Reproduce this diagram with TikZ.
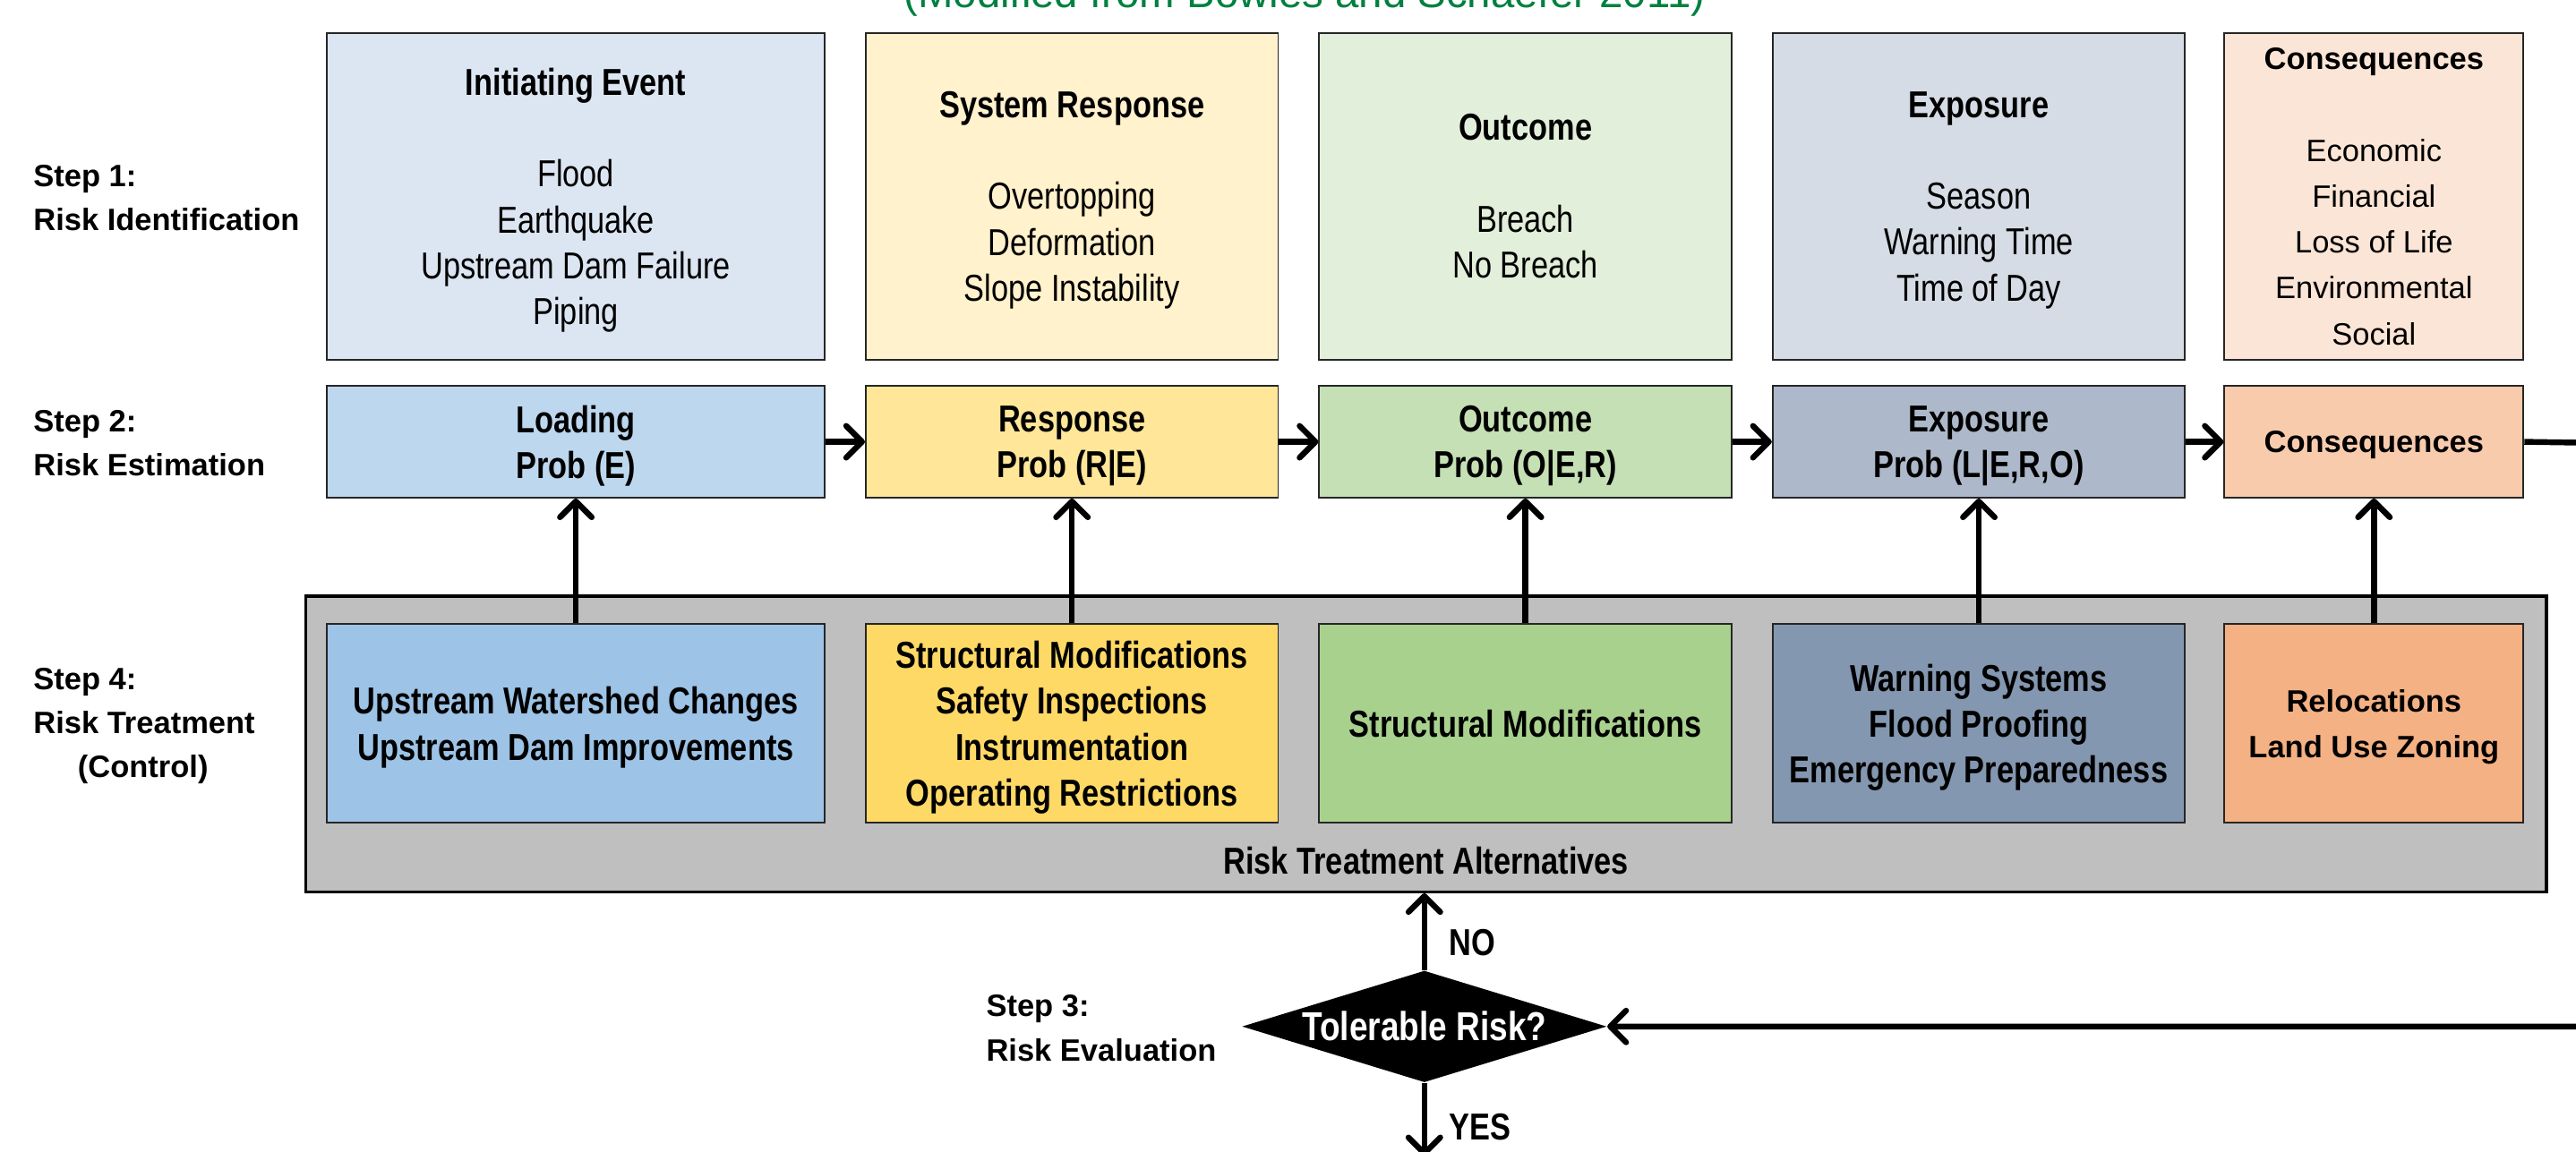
\documentclass[tikz,border=0pt]{standalone}
\usepackage{fontspec}
\setmainfont{Liberation Sans}
\newfontfamily\narrowfont[FakeStretch=0.82]{Liberation Sans}
\usetikzlibrary{arrows.meta,shapes.geometric}
\newlength\unitpx
\setlength\unitpx{0.2mm}
\definecolor{idblue}{HTML}{DCE6F2}
\definecolor{idyellow}{HTML}{FFF2CC}
\definecolor{idgreen}{HTML}{E2EFDA}
\definecolor{idslate}{HTML}{D6DCE5}
\definecolor{idpeach}{HTML}{FBE5D6}
\definecolor{esblue}{HTML}{BDD7EE}
\definecolor{esyellow}{HTML}{FFE699}
\definecolor{esgreen}{HTML}{C5E0B4}
\definecolor{esslate}{HTML}{ADB9CA}
\definecolor{espeach}{HTML}{F8CBAD}
\definecolor{trblue}{HTML}{9DC3E6}
\definecolor{tryellow}{HTML}{FFD966}
\definecolor{trgreen}{HTML}{A9D18E}
\definecolor{trslate}{HTML}{8497B0}
\definecolor{trpeach}{HTML}{F4B183}
\definecolor{altgray}{HTML}{BFBFBF}
\definecolor{notegreen}{HTML}{008040}
\tikzset{
  box/.style={draw=black!85,line width=0.6pt,inner sep=0pt,align=center,text depth=-0.7pt},
  narrowtxt/.style={font=\narrowfont\fontsize{13}{15.9}\selectfont},
  widetxt/.style={font=\fontsize{10.7}{15.9}\selectfont},
  nbold/.style={font=\narrowfont\bfseries\fontsize{13}{15.9}\selectfont},
  wbold/.style={font=\bfseries\fontsize{10.7}{15.9}\selectfont},
  idbox/.style={box,minimum height=199\unitpx},
  esbox/.style={box,minimum height=68\unitpx},
  trbox/.style={box,minimum height=121\unitpx},
  steplbl/.style={anchor=west,align=left,inner sep=0pt,font=\bfseries\fontsize{10.7}{15.3}\selectfont},
  flow/.style={line width=2pt,-{Straight Barb[round,length=5.5pt,width=11pt]}}
}
\begin{document}
\begin{tikzpicture}[x=0.2mm,y=-0.2mm]
\useasboundingbox (0,0) rectangle (1568,701);
\clip (0,0) rectangle (1568,701);
\node[font=\fontsize{14.7}{17}\selectfont,text=notegreen,anchor=base] (note) at (794,4.5) {(Modified from Bowles and Schaefer 2011)};

\node[idbox,narrowtxt,fill=idblue,minimum width=303\unitpx] (i1) at (350.5,119.5) {\textbf{Initiating Event}\\[15.9pt]Flood\\Earthquake\\Upstream Dam Failure\\Piping};
\node[idbox,narrowtxt,fill=idyellow,minimum width=251\unitpx] (i2) at (652.5,119.5) {\textbf{System Response}\\[15.9pt]Overtopping\\Deformation\\Slope Instability};
\node[idbox,narrowtxt,fill=idgreen,minimum width=251\unitpx] (i3) at (928.5,119.5) {\textbf{Outcome}\\[15.9pt]Breach\\No Breach};
\node[idbox,narrowtxt,fill=idslate,minimum width=251\unitpx] (i4) at (1204.5,119.5) {\textbf{Exposure}\\[15.9pt]Season\\Warning Time\\Time of Day};
\node[idbox,widetxt,fill=idpeach,minimum width=182\unitpx] (i5) at (1445,119.5) {\textbf{Consequences}\\[15.9pt]Economic\\Financial\\Loss of Life\\Environmental\\Social};

\node[esbox,nbold,fill=esblue,minimum width=303\unitpx] (e1) at (350.5,269) {Loading\\Prob (E)};
\node[esbox,nbold,fill=esyellow,minimum width=251\unitpx] (e2) at (652.5,269) {Response\\Prob (R|E)};
\node[esbox,nbold,fill=esgreen,minimum width=251\unitpx] (e3) at (928.5,269) {Outcome\\Prob (O|E,R)};
\node[esbox,nbold,fill=esslate,minimum width=251\unitpx] (e4) at (1204.5,269) {Exposure\\Prob (L|E,R,O)};
\node[esbox,wbold,fill=espeach,minimum width=182\unitpx] (e5) at (1445,269) {Consequences};

\node[draw=black,line width=1pt,fill=altgray,inner sep=0pt,minimum width=1364\unitpx,minimum height=180\unitpx] (alt) at (868,453) {};
\node[nbold] (altlbl) at (868,524) {Risk Treatment Alternatives};

\node[trbox,nbold,fill=trblue,minimum width=303\unitpx] (t1) at (350.5,440.5) {Upstream Watershed Changes\\Upstream Dam Improvements};
\node[trbox,nbold,fill=tryellow,minimum width=251\unitpx] (t2) at (652.5,440.5) {Structural Modifications\\Safety Inspections\\Instrumentation\\Operating Restrictions};
\node[trbox,nbold,fill=trgreen,minimum width=251\unitpx] (t3) at (928.5,440.5) {Structural Modifications};
\node[trbox,nbold,fill=trslate,minimum width=251\unitpx] (t4) at (1204.5,440.5) {Warning Systems\\Flood Proofing\\Emergency Preparedness};
\node[trbox,wbold,fill=trpeach,minimum width=182\unitpx] (t5) at (1445,440.5) {Relocations\\Land Use Zoning};

\node[steplbl] (s1) at (20,120.5) {Step 1:\\Risk Identification};
\node[steplbl] (s2) at (20,270) {Step 2:\\Risk Estimation};
\node[steplbl] (s4) at (20,442) {Step 4:\\Risk Treatment\\\hspace*{27\unitpx}(Control)};
\node[steplbl] (s3) at (600,626) {Step 3:\\Risk Evaluation};

\node[diamond,fill=black,text=white,inner sep=0pt,shape aspect=3.26,minimum width=222\unitpx,minimum height=68\unitpx,font=\narrowfont\bfseries\fontsize{14}{16}\selectfont] (dec) at (867,625) {Tolerable Risk?};
\node[nbold,anchor=west,inner sep=0pt] (no) at (882,574) {NO};
\node[nbold,anchor=west,inner sep=0pt] (yes) at (882,686) {YES};
\coordinate (yesend) at (867,704);
\coordinate (rt1) at (1600,270);
\coordinate (rt2) at (1600,625);

\foreach \a/\b in {e1/e2,e2/e3,e3/e4,e4/e5,t1/e1,t2/e2,t3/e3,t4/e4,t5/e5}
  \draw[flow] (\a) -- (\b);
\draw[flow] (dec.north) -- (dec.north |- alt.south);
\draw[flow] (dec.south) -- (yesend);
\draw[flow] (e5.east) -- (rt1) -- (rt2) -- (dec.east);

\end{tikzpicture}
\end{document}
